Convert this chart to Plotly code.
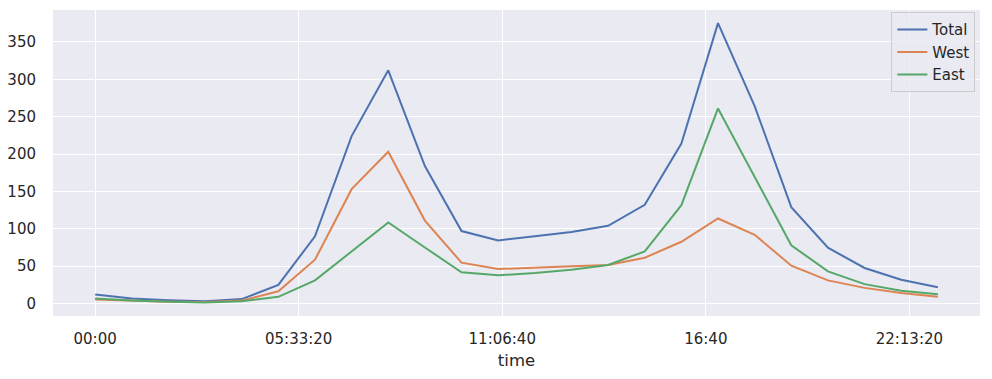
import plotly.graph_objects as go

# hour of day (0..23)
hours = list(range(24))
# average hourly counts
total = [12, 6.7, 4.5, 3, 6, 25, 90, 224, 312, 184, 97, 84.4, 90, 95.6, 104, 132, 214, 375, 264, 129, 74.7, 47.6, 32, 21.8]
west = [5.3, 3.5, 2.5, 2, 4, 16.4, 58.7, 153, 203, 111, 54.7, 46.2, 47.6, 49.8, 51.6, 61.3, 82.7, 113.8, 92, 50.7, 31, 21, 14.2, 9.3]
east = [6.7, 4, 2.5, 1.5, 3, 9, 31, 70, 108.4, 75, 41.8, 37.8, 41, 45.3, 51.6, 69.8, 131.6, 261, 170, 78, 43, 26, 17.3, 12.4]

tick_seconds = [0, 20000, 40000, 60000, 80000]
tick_labels = ["00:00", "05:33:20", "11:06:40", "16:40", "22:13:20"]
y_ticks = [0, 50, 100, 150, 200, 250, 300, 350]

x_sec = [h * 3600 for h in hours]

colors = {"Total": "#4C72B0", "West": "#DD8452", "East": "#55A868"}
series = {"Total": total, "West": west, "East": east}

fig = go.Figure()
for name, vals in series.items():
    fig.add_trace(go.Scatter(x=x_sec, y=vals, mode="lines", name=name,
                             line=dict(color=colors[name], width=2)))

font = dict(family="DejaVu Sans", size=15, color="#262626")
fig.update_layout(
    width=992, height=379,
    margin=dict(l=53, r=12, t=10, b=63),
    paper_bgcolor="white", plot_bgcolor="#EAEAF2",
    font=font,
    showlegend=True,
    legend=dict(x=0.995, y=0.993, xanchor="right", yanchor="top",
                bgcolor="rgba(234,234,242,0.8)", bordercolor="#CCCCCC", borderwidth=1,
                font=dict(family="DejaVu Sans", size=15, color="#262626"),
                itemwidth=30, tracegroupgap=0),
)
fig.update_xaxes(range=[-4140, 86940], tickvals=tick_seconds, ticktext=tick_labels,
                 showgrid=True, gridcolor="white", gridwidth=1.3, zeroline=False,
                 ticks="outside", ticklen=9, tickcolor="rgba(0,0,0,0)", automargin=False,
                 title=dict(text="time", font=dict(size=16.5, family="DejaVu Sans", color="#262626"), standoff=7),
                 showline=False)
fig.update_yaxes(range=[-16.6, 392.6], tickvals=y_ticks, automargin=False,
                 showgrid=True, gridcolor="white", gridwidth=1.3, zeroline=False,
                 ticks="outside", ticklen=13, tickcolor="rgba(0,0,0,0)", showline=False)

fig.write_html("out.html", config={"displayModeBar": False},
               post_script="document.body.style.margin='0';document.body.style.overflow='hidden';")
